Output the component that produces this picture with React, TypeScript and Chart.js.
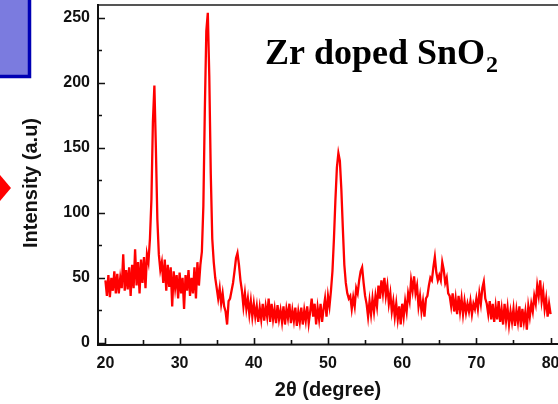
import React, { useEffect, useRef } from "react";
import { Chart, registerables } from "chart.js";

Chart.register(...registerables);

// 2θ sampling grid (degrees)
const angleStart = 20;
const angleStep = 0.2;

// Intensity (a.u.), one value per 0.2° from 20° to 80°
const intensity: number[] = [
  // 20.0 - 21.8
  48, 36, 52, 35, 50, 40, 55, 38, 53, 38,
  // 22.0 - 23.8
  50, 42, 68, 40, 56, 41, 58, 36, 60, 42,
  // 24.0 - 25.8
  72, 44, 62, 38, 64, 46, 66, 42, 68, 62,
  // 26.0 - 27.8
  80, 110, 170, 198, 150, 95, 68, 56, 62, 46,
  // 28.0 - 29.8
  64, 40, 60, 43, 58, 28, 55, 42, 52, 34,
  // 30.0 - 31.8
  54, 38, 50, 26, 52, 40, 56, 36, 50, 38,
  // 32.0 - 33.8
  58, 34, 62, 44, 60, 70, 105, 180, 240, 254,
  // 34.0 - 35.8
  205, 130, 80, 62, 50, 42, 34, 42, 30, 38,
  // 36.0 - 37.8
  28, 24, 14, 32, 34, 40, 46, 55, 65, 69,
  // 38.0 - 39.8
  60, 48, 40, 28, 38, 26, 34, 22, 32, 20,
  // 40.0 - 41.8
  30, 20, 28, 16, 27, 18, 30, 17, 28, 20,
  // 42.0 - 43.8
  34, 16, 30, 18, 26, 15, 29, 18, 25, 16,
  // 44.0 - 45.8
  28, 14, 26, 19, 30, 15, 25, 17, 27, 13,
  // 46.0 - 47.8
  24, 16, 27, 14, 25, 17, 28, 15, 24, 34,
  // 48.0 - 49.8
  20, 30, 14, 27, 18, 30, 16, 26, 34, 20,
  // 50.0 - 51.8
  36, 28, 40, 55, 80, 110, 135, 146, 140, 118,
  // 52.0 - 53.8
  88, 60, 46, 38, 34, 36, 26, 35, 28, 42,
  // 54.0 - 55.8
  38, 48, 55, 58, 46, 36, 30, 20, 32, 22,
  // 56.0 - 57.8
  34, 24, 36, 28, 44, 34, 48, 38, 50, 36,
  // 58.0 - 59.8
  44, 30, 38, 24, 32, 20, 30, 18, 28, 14,
  // 60.0 - 61.8
  30, 20, 32, 24, 38, 32, 48, 40, 51, 38,
  // 62.0 - 63.8
  44, 28, 36, 24, 32, 20, 34, 36, 44, 50,
  // 64.0 - 65.8
  48, 58, 66, 54, 48, 52, 48, 62, 56, 46,
  // 66.0 - 67.8
  50, 38, 36, 28, 38, 24, 34, 22, 36, 24,
  // 68.0 - 69.8
  34, 22, 32, 23, 30, 24, 32, 22, 30, 26,
  // 70.0 - 71.8
  34, 26, 38, 30, 42, 47, 34, 30, 22, 32,
  // 72.0 - 73.8
  18, 30, 16, 28, 18, 32, 16, 26, 14, 30,
  // 74.0 - 75.8
  17, 27, 14, 24, 16, 26, 13, 25, 16, 28,
  // 76.0 - 77.8
  12, 26, 16, 24, 10, 28, 20, 30, 24, 36,
  // 78.0 - 79.8
  30, 44, 36, 48, 32, 40, 26, 34, 20, 30,
  // 80.0
  22,
];

const xMajorTicks = [20, 30, 40, 50, 60, 70, 80];
const xMinorTicks = [25, 35, 45, 55, 65, 75];
const yMajorTicks = [0, 50, 100, 150, 200, 250];
const yMinorTicks = [25, 75, 125, 175, 225];

const chartTitle = "Zr doped SnO";
const chartTitleSub = "2";
const xTitle = "2θ (degree)";
const yTitle = "Intensity (a.u)";

const sans = "'Liberation Sans', Arial, sans-serif";
const serif = "'Liberation Serif', 'Times New Roman', serif";

const decorPlugin = {
  id: "decor",
  afterDraw(chart: any) {
    const ctx = chart.ctx as CanvasRenderingContext2D;
    const { left, top, right, bottom } = chart.chartArea;
    const xs = chart.scales.x;
    const ys = chart.scales.y;
    ctx.save();

    // frame
    ctx.strokeStyle = "#555";
    ctx.lineWidth = 2;
    ctx.beginPath();
    ctx.moveTo(left, top);
    ctx.lineTo(right, top);
    ctx.stroke();

    ctx.strokeStyle = "#111";
    ctx.lineWidth = 2;
    ctx.beginPath();
    ctx.moveTo(left, top - 1);
    ctx.lineTo(left, bottom + 1);
    ctx.lineTo(right, bottom);
    ctx.stroke();

    // inward ticks
    ctx.lineWidth = 1.6;
    ctx.beginPath();
    yMajorTicks.forEach((v) => {
      const y = Math.round(ys.getPixelForValue(v)) + 0.5;
      ctx.moveTo(left, y);
      ctx.lineTo(left + 7, y);
    });
    yMinorTicks.forEach((v) => {
      const y = Math.round(ys.getPixelForValue(v)) + 0.5;
      ctx.moveTo(left, y);
      ctx.lineTo(left + 4, y);
    });
    xMajorTicks.forEach((v) => {
      const x = Math.round(xs.getPixelForValue(v)) + 0.5;
      ctx.moveTo(x, bottom);
      ctx.lineTo(x, bottom - 6);
    });
    xMinorTicks.forEach((v) => {
      const x = Math.round(xs.getPixelForValue(v)) + 0.5;
      ctx.moveTo(x, bottom);
      ctx.lineTo(x, bottom - 4);
    });
    ctx.stroke();

    // axis titles
    ctx.fillStyle = "#111";
    ctx.font = `bold 20px ${sans}`;
    ctx.textAlign = "center";
    ctx.textBaseline = "middle";
    ctx.fillText(xTitle, 328, 390);
    ctx.save();
    ctx.translate(31, 183);
    ctx.rotate(-Math.PI / 2);
    ctx.fillText(yTitle, 0, 0);
    ctx.restore();

    // chart title with subscript
    ctx.fillStyle = "#000";
    ctx.textAlign = "left";
    ctx.textBaseline = "alphabetic";
    ctx.font = `bold 36px ${serif}`;
    ctx.fillText(chartTitle, 265, 64);
    const w = ctx.measureText(chartTitle).width;
    ctx.font = `bold 24px ${serif}`;
    ctx.fillText(chartTitleSub, 265 + w + 1, 72);

    // fragments of neighbouring figure elements
    ctx.fillStyle = "#7b7bdf";
    ctx.fillRect(0, 0, 31, 78);
    ctx.strokeStyle = "#0000b4";
    ctx.lineWidth = 3.5;
    ctx.beginPath();
    ctx.moveTo(0, 76.5);
    ctx.lineTo(29.5, 76.5);
    ctx.lineTo(29.5, 0);
    ctx.stroke();

    ctx.fillStyle = "#ff0000";
    ctx.beginPath();
    ctx.moveTo(0, 175);
    ctx.lineTo(11, 188);
    ctx.lineTo(0, 201);
    ctx.closePath();
    ctx.fill();

    ctx.restore();
  },
};

export default function App() {
  const canvasRef = useRef<HTMLCanvasElement | null>(null);

  useEffect(() => {
    const canvas = canvasRef.current;
    if (!canvas) return;
    const points = intensity.map((v, i) => ({
      x: angleStart + i * angleStep,
      y: v,
    }));
    const chart = new Chart(canvas, {
      type: "line",
      data: {
        datasets: [
          {
            data: points,
            borderColor: "#ff0000",
            borderWidth: 2.3,
            pointRadius: 0,
            tension: 0,
            fill: false,
          },
        ],
      },
      options: {
        animation: false,
        responsive: false,
        maintainAspectRatio: false,
        parsing: false as any,
        layout: { padding: { top: 5, right: 0, left: 0, bottom: 0 } },
        plugins: {
          legend: { display: false },
          tooltip: { enabled: false },
          title: { display: false },
        },
        scales: {
          x: {
            type: "linear",
            min: 19,
            max: 81,
            border: { display: false },
            grid: { display: false, drawTicks: false },
            ticks: {
              padding: 10,
              color: "#111",
              font: { family: sans, size: 16, weight: "bold" },
              maxRotation: 0,
            },
            afterBuildTicks: (scale: any) => {
              scale.ticks = xMajorTicks.map((v) => ({ value: v }));
            },
            afterFit: (scale: any) => {
              scale.height = 60;
              scale.paddingLeft = 0;
              scale.paddingRight = 0;
            },
          },
          y: {
            type: "linear",
            min: -1,
            max: 260,
            border: { display: false },
            grid: { display: false, drawTicks: false },
            ticks: {
              padding: 8,
              color: "#111",
              font: { family: sans, size: 16, weight: "bold" },
            },
            afterBuildTicks: (scale: any) => {
              scale.ticks = yMajorTicks.map((v) => ({ value: v }));
            },
            afterFit: (scale: any) => {
              scale.width = 98;
              scale.paddingTop = 0;
              scale.paddingBottom = 0;
            },
          },
        },
      },
      plugins: [decorPlugin],
    });
    return () => chart.destroy();
  }, []);

  return (
    <div
      style={{
        position: "fixed",
        left: 0,
        top: 0,
        width: 558,
        height: 404,
        background: "#fff",
      }}
    >
      <canvas
        ref={canvasRef}
        width={558}
        height={404}
        style={{ width: 558, height: 404, display: "block" }}
      />
    </div>
  );
}
